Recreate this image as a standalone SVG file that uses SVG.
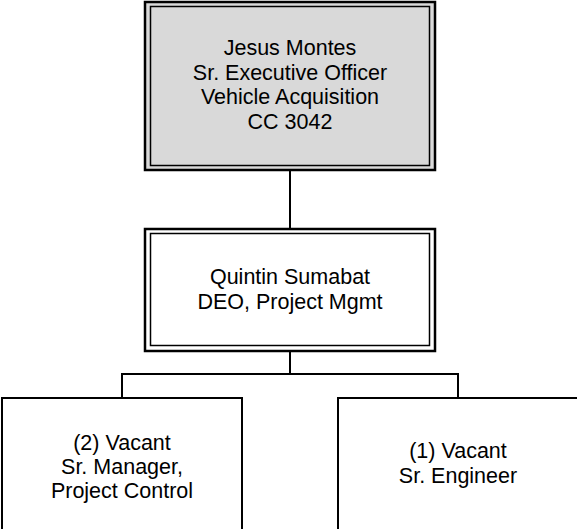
<svg xmlns="http://www.w3.org/2000/svg" width="577" height="529" viewBox="0 0 577 529">
<style>
  .outer { stroke: #000; stroke-width: 2.5; }
  .gray { fill: #d9d9d9; }
  .white { fill: #fff; }
  .inner { fill: none; stroke: #000; stroke-width: 1.5; }
  .box { fill: #fff; stroke: #000; stroke-width: 2; }
  .conn { fill: none; stroke: #000; stroke-width: 2; }
  text { font-family: "Liberation Sans", Arial, sans-serif; font-size: 21.5px; fill: #000; text-anchor: middle; }
</style>
<rect width="577" height="529" fill="#fff"/>
<g id="connectors">
  <line class="conn" x1="290" y1="170" x2="290" y2="229"/>
  <line class="conn" x1="290" y1="351" x2="290" y2="374"/>
  <polyline class="conn" points="122,398 122,374 458,374 458,398"/>
</g>
<g id="node-montes">
  <rect x="145" y="2" width="290" height="168" class="outer gray"/>
  <rect x="150.5" y="6.5" width="279" height="159" class="inner"/>
  <text x="290" y="55">Jesus Montes</text>
  <text x="290" y="80">Sr. Executive Officer</text>
  <text x="290" y="104">Vehicle Acquisition</text>
  <text x="290" y="129">CC 3042</text>
</g>
<g id="node-sumabat">
  <rect x="145" y="229" width="290" height="122" class="outer white"/>
  <rect x="150.5" y="233.5" width="279" height="112" class="inner"/>
  <text x="290" y="284">Quintin Sumabat</text>
  <text x="290" y="309">DEO, Project Mgmt</text>
</g>
<g id="node-manager">
  <rect class="box" x="2" y="398" width="240" height="138"/>
  <text x="122" y="450">(2) Vacant</text>
  <text x="122" y="474">Sr. Manager,</text>
  <text x="122" y="498">Project Control</text>
</g>
<g id="node-engineer">
  <rect class="box" x="338" y="398" width="241" height="138"/>
  <text x="458" y="458">(1) Vacant</text>
  <text x="458" y="483">Sr. Engineer</text>
</g>
</svg>
